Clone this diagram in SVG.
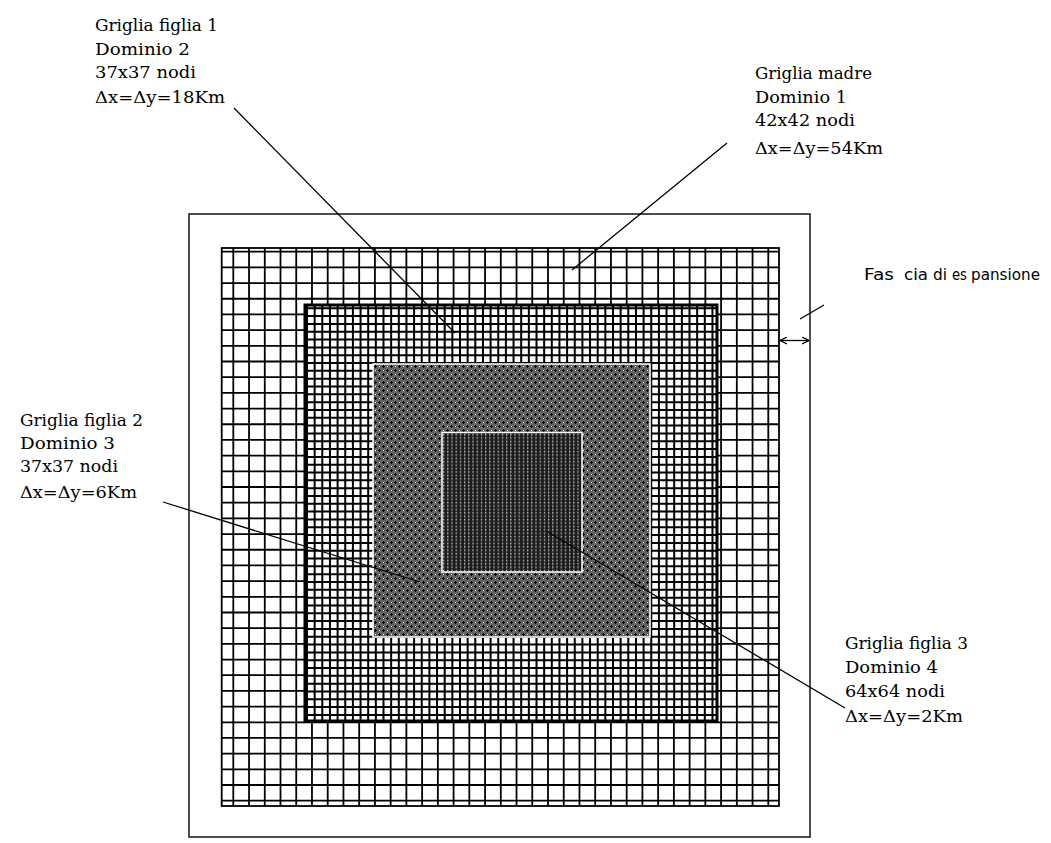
<svg xmlns="http://www.w3.org/2000/svg" width="1051" height="843" viewBox="0 0 1051 843">
<style>
.lbl{font-family:"DejaVu Serif","Liberation Serif",serif;font-size:17px;fill:#000}
.fas{font-family:"DejaVu Sans","Liberation Sans",sans-serif;font-size:15px;fill:#000}
.conn{stroke:#000;stroke-width:1.3;fill:none}
.grid{stroke:#000;fill:none}
</style>
<defs>
<pattern id="p3" patternUnits="userSpaceOnUse" x="373" y="364" width="8" height="8">
<rect width="8" height="8" fill="#646464"/>
<rect x="2" y="1" width="1" height="3" fill="#000"/>
<rect x="1" y="2" width="3" height="1" fill="#000"/>
<rect x="6" y="5" width="1" height="3" fill="#000"/>
<rect x="5" y="6" width="3" height="1" fill="#000"/>
<rect x="6" y="2" width="1" height="1" fill="#fff"/>
<rect x="2" y="6" width="1" height="1" fill="#fff"/>
</pattern>
<pattern id="p4" patternUnits="userSpaceOnUse" x="443" y="434" width="4.2" height="3.4">
<rect width="4.2" height="3.4" fill="#1c1c1c"/>
<rect x="0" y="0" width="1.2" height="3.4" fill="#484848"/>
<rect x="0" y="0" width="1.2" height="1.2" fill="#c8c8c8"/>
</pattern>
<marker id="ah" viewBox="0 0 7 8" refX="7" refY="4" markerWidth="7" markerHeight="8" markerUnits="userSpaceOnUse" orient="auto-start-reverse">
<path d="M0,0.5 L7,4 L0,7.5" fill="none" stroke="#000" stroke-width="1.2"/>
</marker>
</defs>
<rect width="1051" height="843" fill="#fff"/>
<g id="frame">
<rect x="189" y="214" width="621" height="623" fill="none" stroke="#222" stroke-width="1.6"/>
</g>
<g id="domain1" class="grid">
<line x1="232.4" y1="527" x2="770" y2="527" stroke-width="558" stroke-dasharray="1.8 13.935"/>
<line x1="500.35" y1="250.8" x2="500.35" y2="802" stroke-width="557.3" stroke-dasharray="1.8 13.886"/>
<rect x="221.7" y="248" width="557.3" height="558" stroke-width="1.8"/>
</g>
<g id="domain2" class="grid">
<rect x="305" y="305" width="412" height="416" fill="#fff" stroke="none"/>
<line x1="306" y1="513" x2="714" y2="513" stroke-width="416" stroke-dasharray="2 5.65"/>
<line x1="511" y1="307.3" x2="511" y2="716.5" stroke-width="412" stroke-dasharray="2 5.82"/>
<rect x="305" y="305" width="412" height="416" stroke-width="3"/>
</g>
<g id="domain3">
<rect x="373" y="364" width="277" height="273" fill="url(#p3)" stroke="#fff" stroke-width="1.5"/>
</g>
<g id="domain4">
<rect x="442" y="432.5" width="140" height="139.5" fill="url(#p4)" stroke="#fff" stroke-width="1.5"/>
</g>
<g id="label-figlia1">
<text class="lbl" x="95" y="31" textLength="123" lengthAdjust="spacingAndGlyphs">Griglia figlia 1</text>
<text class="lbl" x="95" y="55" textLength="95" lengthAdjust="spacingAndGlyphs">Dominio 2</text>
<text class="lbl" x="95" y="78" textLength="101" lengthAdjust="spacingAndGlyphs">37x37 nodi</text>
<text class="lbl" x="95" y="103" textLength="130" lengthAdjust="spacingAndGlyphs">Δx=Δy=18Km</text>
</g>
<g id="label-madre">
<text class="lbl" x="755" y="79" textLength="117" lengthAdjust="spacingAndGlyphs">Griglia madre</text>
<text class="lbl" x="755" y="103" textLength="92" lengthAdjust="spacingAndGlyphs">Dominio 1</text>
<text class="lbl" x="755" y="126" textLength="100" lengthAdjust="spacingAndGlyphs">42x42 nodi</text>
<text class="lbl" x="755" y="154" textLength="128" lengthAdjust="spacingAndGlyphs">Δx=Δy=54Km</text>
</g>
<g id="label-figlia2">
<text class="lbl" x="20" y="426" textLength="123" lengthAdjust="spacingAndGlyphs">Griglia figlia 2</text>
<text class="lbl" x="20" y="449" textLength="95" lengthAdjust="spacingAndGlyphs">Dominio 3</text>
<text class="lbl" x="20" y="472" textLength="98" lengthAdjust="spacingAndGlyphs">37x37 nodi</text>
<text class="lbl" x="20" y="498" textLength="117" lengthAdjust="spacingAndGlyphs">Δx=Δy=6Km</text>
</g>
<g id="label-figlia3">
<text class="lbl" x="845" y="649" textLength="123" lengthAdjust="spacingAndGlyphs">Griglia figlia 3</text>
<text class="lbl" x="845" y="673" textLength="93" lengthAdjust="spacingAndGlyphs">Dominio 4</text>
<text class="lbl" x="845" y="697" textLength="100" lengthAdjust="spacingAndGlyphs">64x64 nodi</text>
<text class="lbl" x="845" y="722" textLength="118" lengthAdjust="spacingAndGlyphs">Δx=Δy=2Km</text>
</g>
<g id="label-fascia">
<text class="fas" y="280"><tspan x="864" textLength="30" lengthAdjust="spacingAndGlyphs">Fas</tspan><tspan x="904" textLength="24" lengthAdjust="spacingAndGlyphs">cia</tspan> <tspan x="933" textLength="14" lengthAdjust="spacingAndGlyphs">di</tspan> <tspan x="952" textLength="15" lengthAdjust="spacingAndGlyphs">es</tspan><tspan x="971" textLength="69" lengthAdjust="spacingAndGlyphs">pansione</tspan></text>
</g>
<g id="connectors">
<line class="conn" x1="234" y1="108" x2="455" y2="333"/>
<line class="conn" x1="727" y1="143" x2="572" y2="270"/>
<line class="conn" x1="163" y1="502" x2="420" y2="582"/>
<line class="conn" x1="548" y1="532" x2="845" y2="708"/>
<line class="conn" x1="800" y1="319" x2="824" y2="305"/>
<line class="conn" x1="780" y1="340.5" x2="809" y2="340.5" marker-start="url(#ah)" marker-end="url(#ah)"/>
</g>
</svg>
